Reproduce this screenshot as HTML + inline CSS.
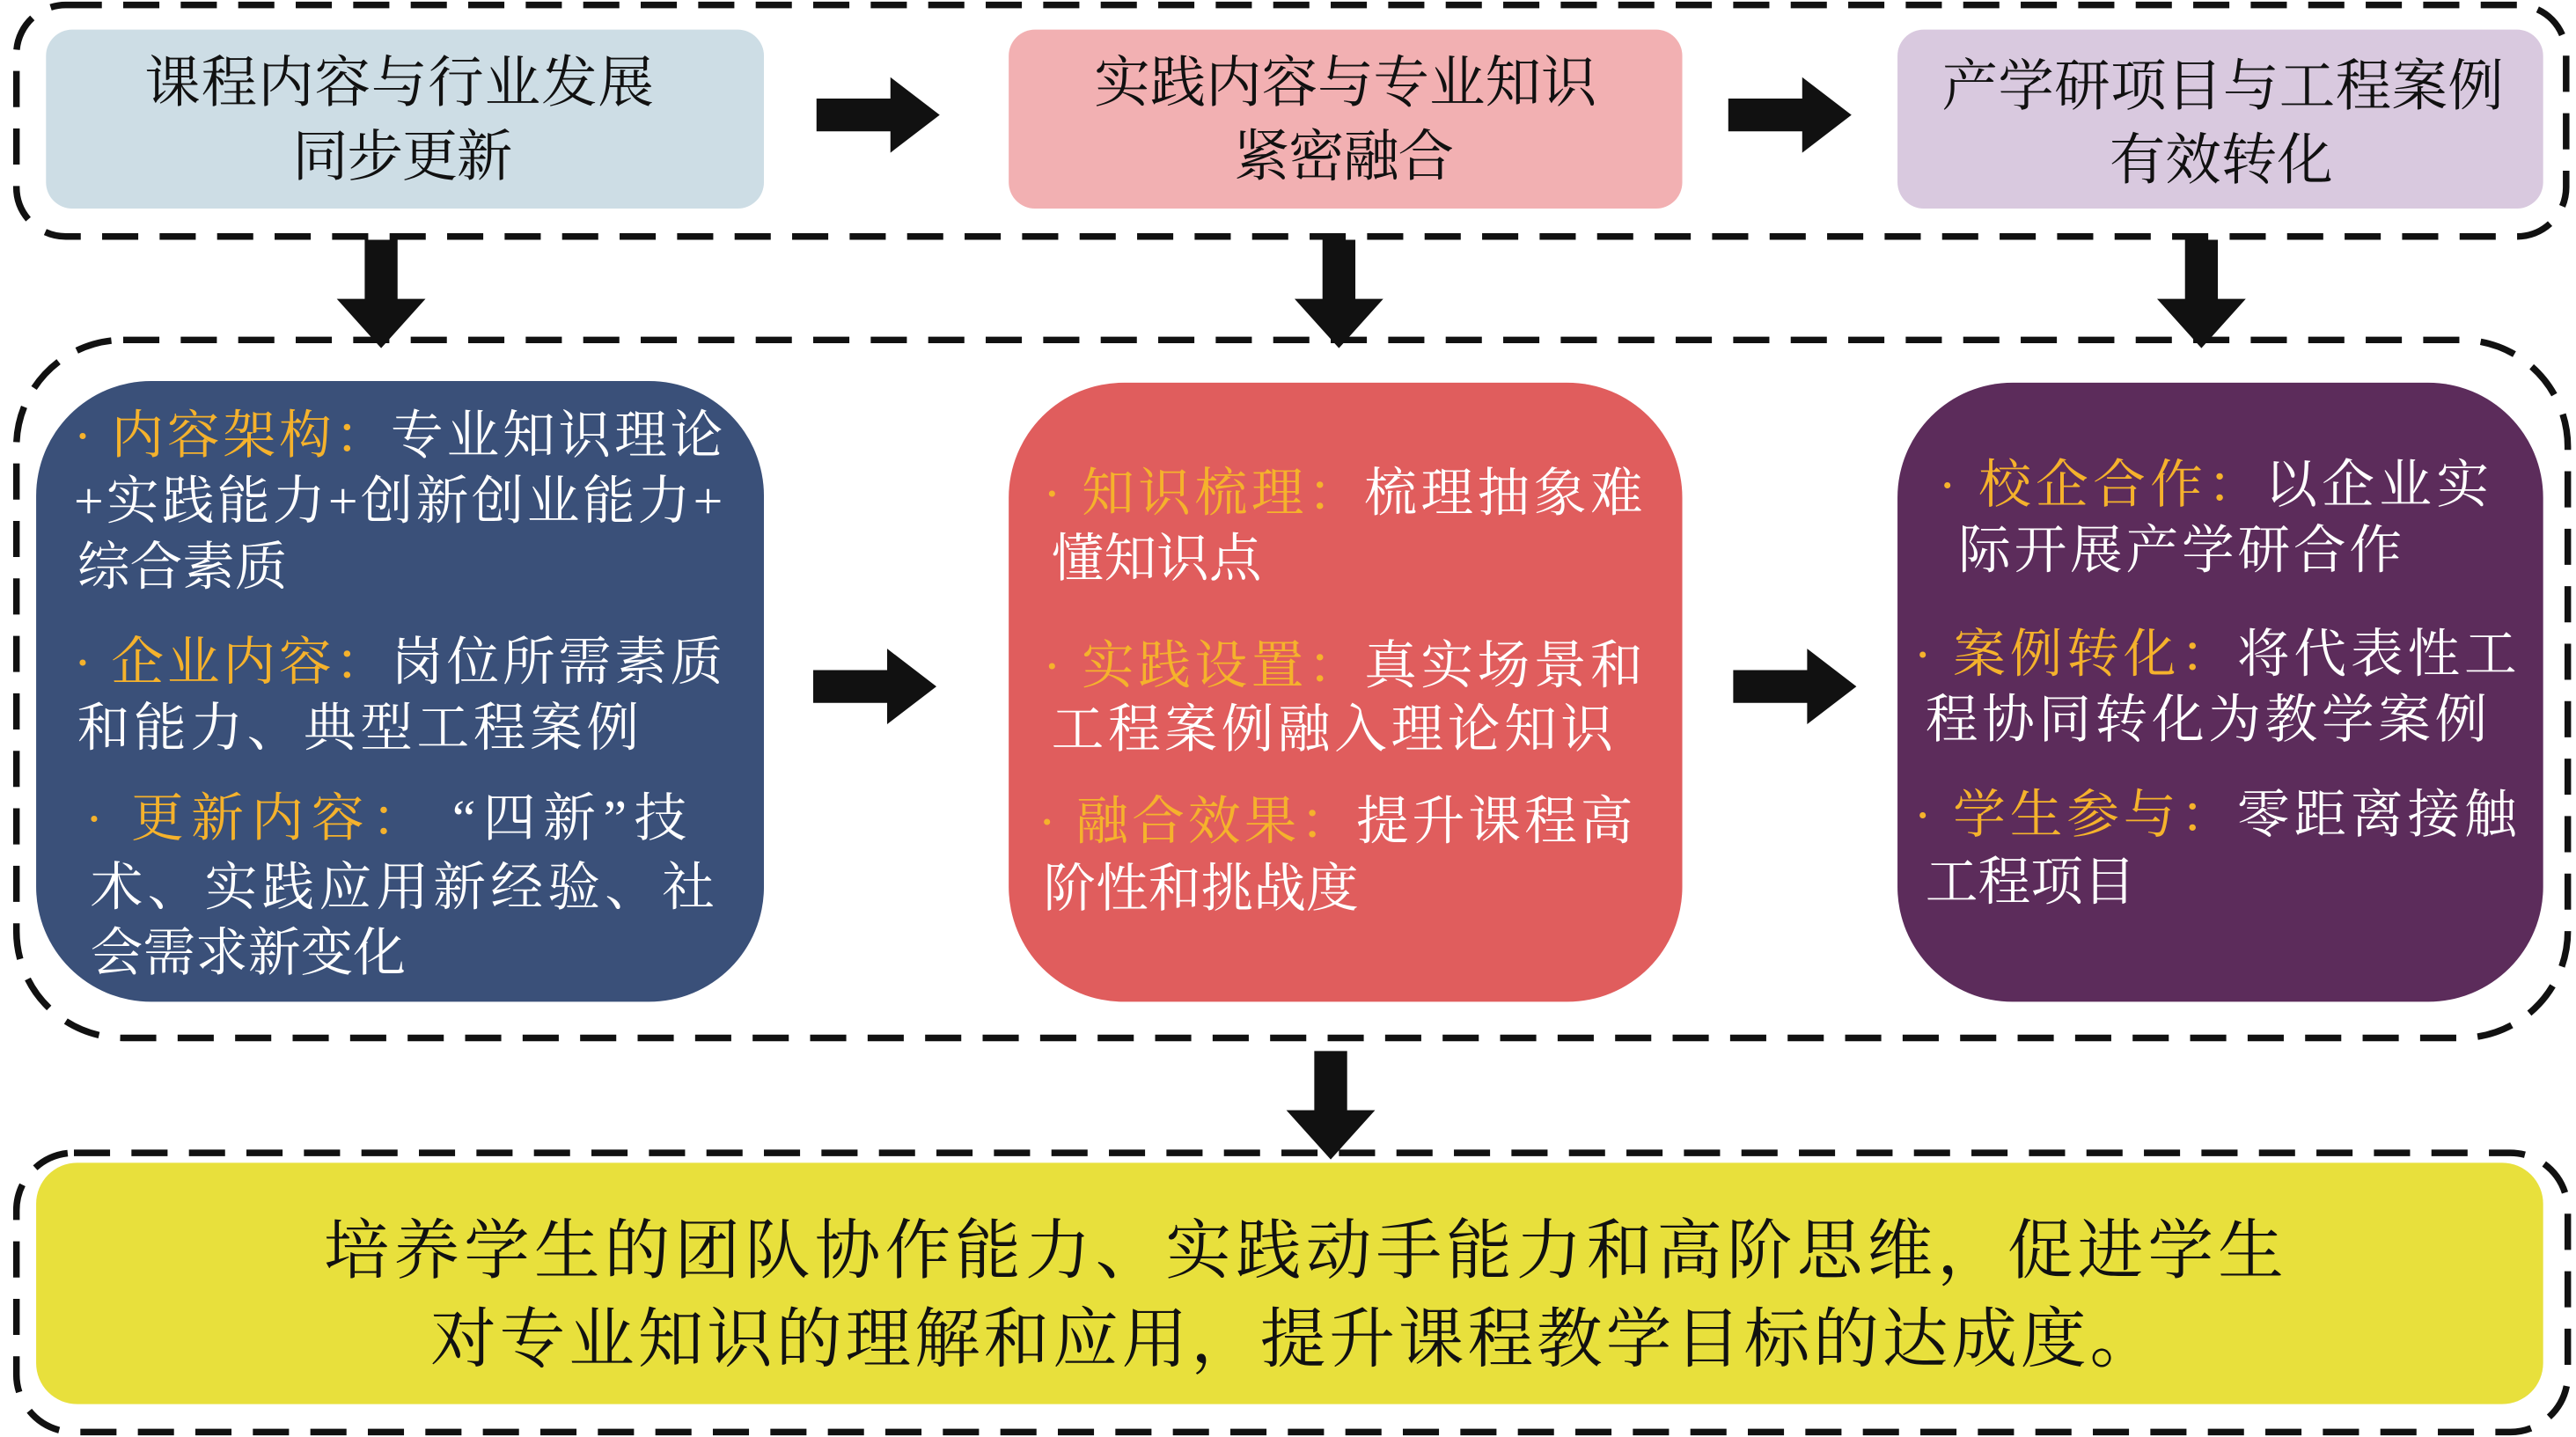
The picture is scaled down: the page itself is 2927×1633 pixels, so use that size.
<!DOCTYPE html>
<html><head><meta charset="utf-8"><style>
html,body{margin:0;padding:0;background:#fff;}
svg{display:block;}
text{font-family:"Liberation Serif","Noto Serif CJK SC",serif;}
.w{fill:#fff;font-size:32px;}
.o{fill:#f5b22c;}
.k{fill:#111;}
</style></head><body>
<svg width="2927" height="1633" viewBox="0 0 1568 875" preserveAspectRatio="none" xmlns="http://www.w3.org/2000/svg">
<g fill="none" stroke="#111" stroke-width="4" stroke-dasharray="22 13">
<rect x="10" y="3" width="1552" height="141" rx="30"/>
<rect x="10" y="207" width="1553" height="425" rx="65"/>
<rect x="10" y="702" width="1553" height="170" rx="35"/>
</g>
<rect x="28" y="18" width="437" height="109" rx="16" fill="#cddde5"/>
<rect x="614" y="18" width="410" height="109" rx="16" fill="#f2b0b2"/>
<rect x="1155" y="18" width="393" height="109" rx="16" fill="#d9c9df"/>
<rect x="22" y="232" width="443" height="378" rx="70" fill="#3a5079"/>
<rect x="614" y="233" width="410" height="377" rx="70" fill="#e05d5d"/>
<rect x="1155" y="233" width="393" height="377" rx="70" fill="#5c2c5b"/>
<rect x="22" y="708" width="1526" height="147" rx="25" fill="#e8e03c"/>
<g fill="#111">
<path d="M497 60h45v-13l30 23-30 23v-13h-45z"/>
<path d="M1052 60h45v-13l30 23-30 23v-13h-45z"/>
<path d="M495 408h45v-13l30 23-30 23v-13h-45z"/>
<path d="M1055 408h45v-13l30 23-30 23v-13h-45z"/>
<path d="M222 146h20v36h17l-27 30-27-30h17z"/>
<path d="M805 146h20v36h17l-27 30-27-30h17z"/>
<path d="M1330 146h20v36h17l-27 30-27-30h17z"/>
<path d="M800 640h20v36h17l-27 30-27-30h17z"/>
</g>
<g class="k" font-size="34">
<text x="88" y="62" textLength="310" lengthAdjust="spacing">课程内容与行业发展</text><text x="178" y="107" textLength="134" lengthAdjust="spacing">同步更新</text>
<text x="666" y="62" textLength="306" lengthAdjust="spacing">实践内容与专业知识</text><text x="751" y="107" textLength="134" lengthAdjust="spacing">紧密融合</text>
<text x="1182" y="64" textLength="342" lengthAdjust="spacing">产学研项目与工程案例</text><text x="1284" y="109" textLength="136" lengthAdjust="spacing">有效转化</text>
</g>
<g class="w">
<text x="45" y="276" textLength="395" lengthAdjust="spacing"><tspan class="o">· 内容架构：</tspan>专业知识理论</text>
<text x="45" y="316" textLength="395" lengthAdjust="spacing">+实践能力+创新创业能力+</text>
<text x="47" y="356">综合素质</text>
<text x="45" y="414" textLength="395" lengthAdjust="spacing"><tspan class="o">· 企业内容：</tspan>岗位所需素质</text>
<text x="47" y="454" textLength="342" lengthAdjust="spacing">和能力、典型工程案例</text>
<text x="52" y="509" textLength="366" lengthAdjust="spacing"><tspan class="o">· 更新内容：</tspan> “四新”技</text>
<text x="55" y="551" textLength="380" lengthAdjust="spacing">术、实践应用新经验、社</text>
<text x="55" y="591">会需求新变化</text>

<text x="635" y="311" textLength="365" lengthAdjust="spacing"><tspan class="o">· 知识梳理：</tspan>梳理抽象难</text>
<text x="640" y="351">懂知识点</text>
<text x="635" y="416" textLength="365" lengthAdjust="spacing"><tspan class="o">· 实践设置：</tspan>真实场景和</text>
<text x="640" y="455" textLength="342" lengthAdjust="spacing">工程案例融入理论知识</text>
<text x="632" y="511" textLength="362" lengthAdjust="spacing"><tspan class="o">· 融合效果：</tspan>提升课程高</text>
<text x="635" y="552">阶性和挑战度</text>

<text x="1180" y="306" textLength="335" lengthAdjust="spacing"><tspan class="o">· 校企合作：</tspan>以企业实</text>
<text x="1192" y="346" textLength="270" lengthAdjust="spacing">际开展产学研合作</text>
<text x="1165" y="409" textLength="367" lengthAdjust="spacing"><tspan class="o">· 案例转化：</tspan>将代表性工</text>
<text x="1172" y="449" textLength="342" lengthAdjust="spacing">程协同转化为教学案例</text>
<text x="1165" y="507" textLength="367" lengthAdjust="spacing"><tspan class="o">· 学生参与：</tspan>零距离接触</text>
<text x="1172" y="548">工程项目</text>
</g>
<g class="k" font-size="40">
<text x="197" y="775" textLength="1193" lengthAdjust="spacing">培养学生的团队协作能力、实践动手能力和高阶思维，促进学生</text>
<text x="262" y="829" textLength="1050" lengthAdjust="spacing">对专业知识的理解和应用，提升课程教学目标的达成度。</text>
</g>
</svg>
</body></html>
